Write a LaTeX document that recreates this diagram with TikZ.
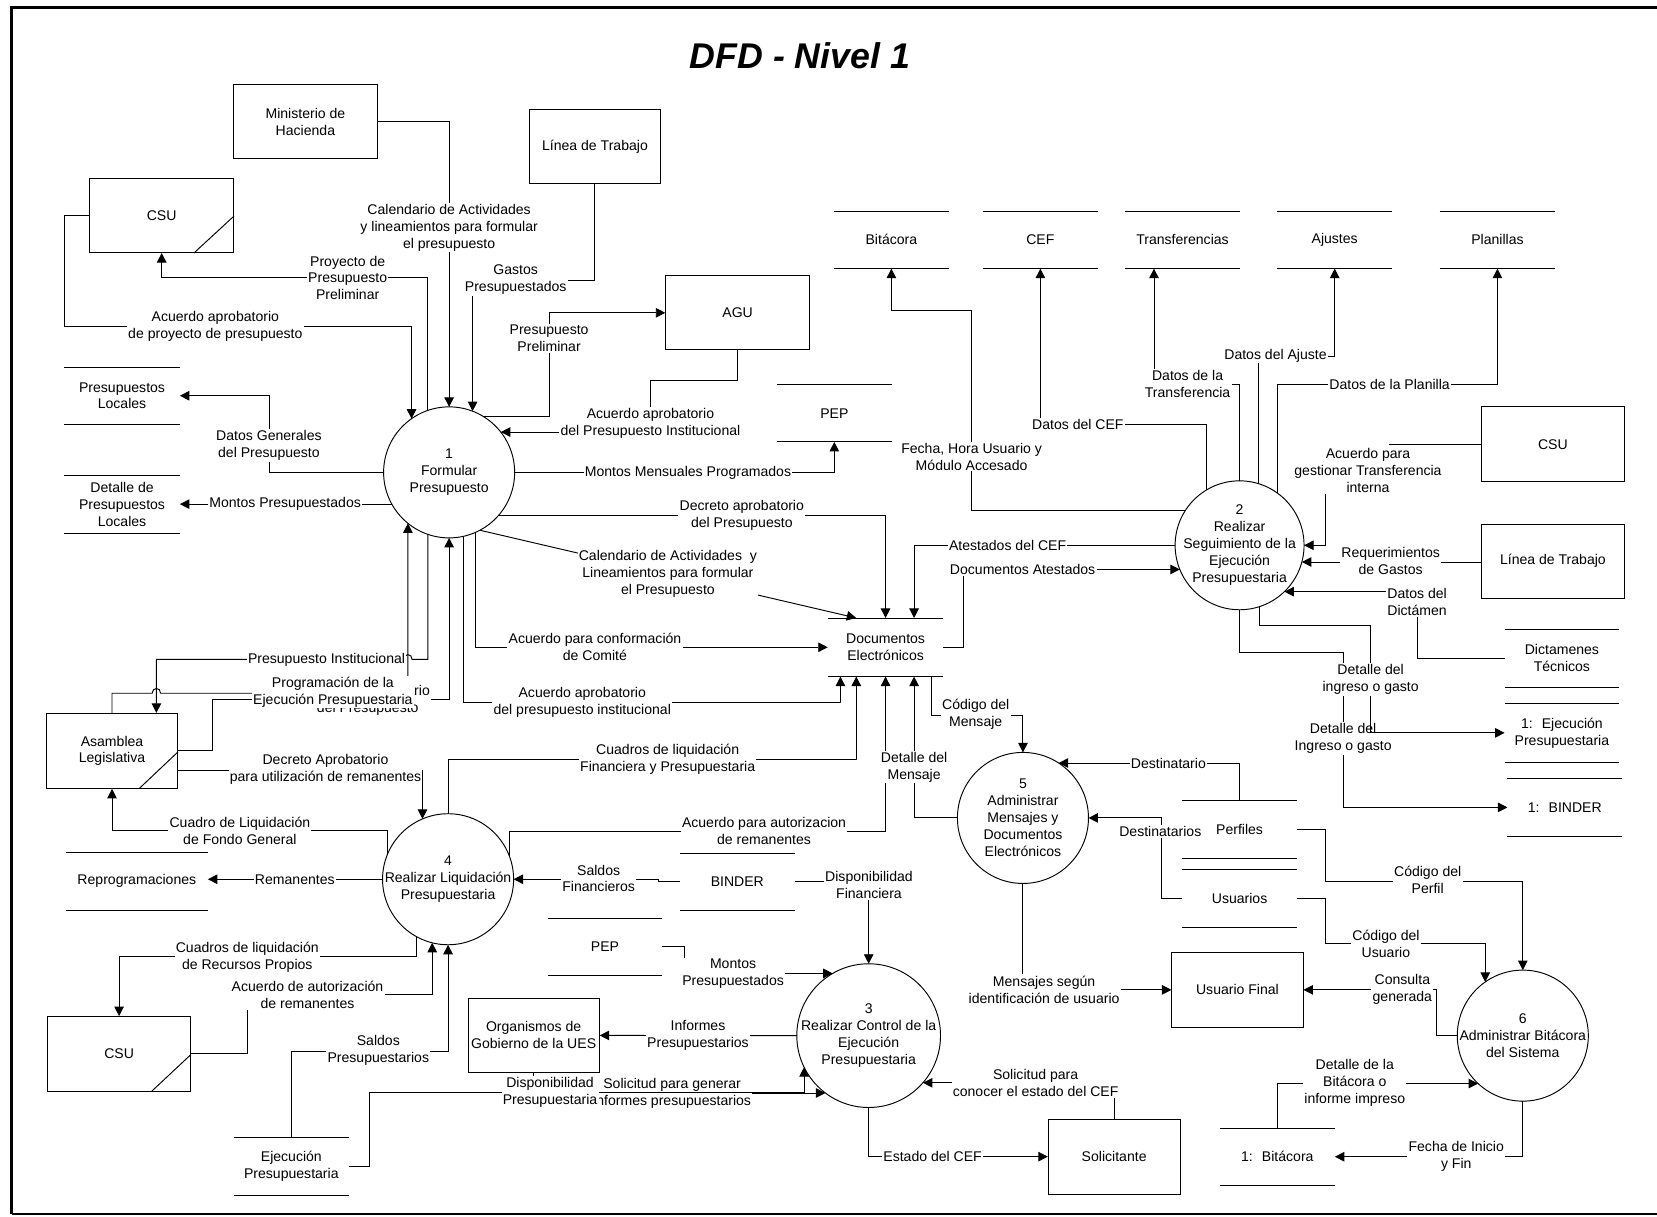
\documentclass[tikz,border=0pt]{standalone}
\usepackage{fontspec}
\setmainfont{Liberation Sans}
\usetikzlibrary{arrows.meta,calc}
\newcommand{\dfdstore}[1]{\draw[ln] (#1.north west) -- (#1.north east) (#1.south west) -- (#1.south east);}
\begin{document}
\begin{tikzpicture}[x=1pt,y=-1pt,
  every node/.style={font=\fontsize{13.3pt}{16pt}\selectfont},
  ln/.style={line width=0.9pt},
  arr/.style={line width=0.9pt,-{Triangle[length=9pt,width=9pt]}},
  ent/.style={draw,line width=0.9pt,rectangle,inner sep=0pt,align=center},
  proc/.style={draw,line width=0.9pt,circle,inner sep=0pt,outer sep=0pt},
  ptxt/.style={align=center,inner sep=0pt},
  store/.style={inner sep=0pt,align=center,minimum width=109pt,minimum height=54pt},
  lbl/.style={fill=white,inner sep=1.2pt,align=center}
]
\useasboundingbox (0,0) rectangle (1568,1151);
% frame
\draw[line width=3pt] (1568,7) -- (11,7) -- (11,1149);
\draw[line width=1.5pt] (11,1149) -- (1568,1149);
% title
\node[font=\fontsize{33.8pt}{40pt}\selectfont\bfseries\itshape] (title) at (757,53) {DFD - Nivel 1};

% external entities
\node[ent,minimum width=136pt,minimum height=70pt] (minH) at (289,115) {Ministerio de\\Hacienda};
\node[ent,minimum width=136pt,minimum height=70pt] (csuT) at (153,204) {CSU};
\node[ent,minimum width=124pt,minimum height=70pt] (lineaT) at (563,139) {Línea de Trabajo};
\node[ent,minimum width=136pt,minimum height=70pt] (agu) at (698,296) {AGU};
\node[ent,minimum width=135pt,minimum height=71pt] (csuR) at (1469.5,420.5) {CSU};
\node[ent,minimum width=135pt,minimum height=70pt] (lineaR) at (1469.5,531) {Línea de Trabajo};
\node[ent,minimum width=124pt,minimum height=71pt] (asam) at (106,710.5) {Asamblea\\Legislativa};
\node[ent,minimum width=135pt,minimum height=70.5pt] (csuB) at (112.7,997.2) {CSU};
\node[ent,minimum width=124pt,minimum height=70.5pt] (org) at (505,979.8) {Organismos de\\Gobierno de la UES};
\node[ent,minimum width=124pt,minimum height=70.5pt] (usuF) at (1171,936.7) {Usuario Final};
\node[ent,minimum width=124.6pt,minimum height=71pt] (solic) at (1054.3,1094.5) {Solicitante};
\draw[ln] ($(csuT.south east)+(-38,0)$) -- ($(csuT.south east)+(0,-35)$);
\draw[ln] ($(asam.south east)+(-37,0)$) -- ($(asam.south east)+(0,-35)$);
\draw[ln] ($(csuB.south east)+(-37.4,0)$) -- ($(csuB.south east)+(0,-35)$);

% processes
\node[proc,minimum size=124pt] (c1) at (425,447) {};
\node[ptxt] (c1t) at (425,447) {1\\Formular\\Presupuesto};
\node[proc,minimum size=122pt] (c2) at (1173,516) {};
\node[ptxt] (c2t) at (1173,516) {2\\Realizar\\Seguimiento de la\\Ejecución\\Presupuestaria};
\node[proc,minimum size=136pt] (c3) at (822,980) {};
\node[ptxt] (c3t) at (822,980) {3\\Realizar Control de la\\Ejecución\\Presupuestaria};
\node[proc,minimum size=124pt] (c4) at (424,832) {};
\node[ptxt] (c4t) at (424,832) {4\\Realizar Liquidación\\Presupuestaria};
\node[proc,minimum size=124pt] (c5) at (968,774) {};
\node[ptxt] (c5t) at (968,774) {5\\Administrar\\Mensajes y\\Documentos\\Electrónicos};
\node[proc,minimum size=124pt] (c6) at (1441,980) {};
\node[ptxt] (c6t) at (1441,980) {6\\Administrar Bitácora\\del Sistema};

% data stores
\node[store,minimum height=53pt] (presLoc) at (115.5,374.5) {Presupuestos\\Locales};
\node[store,minimum height=55pt] (detPres) at (115.5,477.5) {Detalle de\\Presupuestos\\Locales};
\node[store] (bitac) at (843.5,227) {Bitácora};
\node[store] (cef) at (984.5,227) {CEF};
\node[store,minimum width=108pt] (transf) at (1119,227) {Transferencias};
\node[store,minimum width=108.5pt] (ajust) at (1263,227) {Ajustes};
\node[store] (plan) at (1417,227) {Planillas};
\node[store] (pep1) at (789.5,391) {PEP};
\node[store,minimum height=55pt] (docs) at (838,612.5) {Documentos\\Electrónicos};
\node[store,minimum width=108pt] (dict) at (1478,623) {Dictamenes\\Técnicos};
\node[store,minimum width=108pt,minimum height=55pt] (ejec1) at (1478,693.5) {1:~ Ejecución\\Presupuestaria};
\node[store,minimum width=108pt] (binder1) at (1480.7,764) {1:~ BINDER};
\node[store,minimum width=108pt] (perf) at (1173,785) {Perfiles};
\node[store,minimum width=108pt] (usu) at (1173,850) {Usuarios};
\node[store,minimum width=108.5pt] (bit1) at (1208.7,1094.6) {1:~ Bitácora};
\node[store,minimum width=134pt] (reprog) at (129.5,834) {Reprogramaciones};
\node[store,minimum width=108.5pt] (binderM) at (697.7,834.5) {BINDER};
\node[store,minimum width=108pt] (pepM) at (572.5,896) {PEP};
\node[store,minimum width=108pt] (ejecB) at (275.7,1104) {Ejecución\\Presupuestaria};
\foreach \s in {presLoc,detPres,bitac,cef,transf,ajust,plan,pep1,docs,dict,ejec1,binder1,perf,usu,bit1,reprog,binderM,pepM,ejecB}{\dfdstore{\s}}

% flows of process 1
\draw[arr] (minH.east) -| (c1.north);
\draw[arr] (c1.109) |- (153,263) -| (csuT.south);
\draw[arr] (csuT.west) -| (61,309) -| (c1.125);
\draw[arr] (lineaT.south) |- (447,265) -| (c1.69);
\draw[arr] (c1.59) -| (520,296) |- (agu.west);
\draw[arr] (agu.south) |- (616,360) |- (c1.38);
\draw[arr] (c1.west) -| (255,374.5) -- (presLoc.east);
\draw[arr] (c1.209) -- (c1.209 -| detPres.east);
\draw[arr] (c1.east) -| (pep1.south);
\draw[arr] (c1.-41) -| (docs.north);
\draw[arr] (c1.-62) -- ([xshift=27pt]docs.north west);
\draw[arr] (c1.-66) |- (docs.west);
\draw[arr] (c1.-77) |- (795.5,665) -| ([xshift=12pt]docs.south west);
\draw[arr] (c1.-109) |- (390,624) .. controls (390,618) and (382,618) .. (382,624) -- (148,624) -- ([xshift=42pt]asam.north);
\draw[arr] (asam.north) |- (144,656) .. controls (144,650) and (152,650) .. (152,656) -| (c1.-129);
\draw[arr] (asam.east) -| (201,662) -| (c1.south);
\draw[arr] ($(asam.east)+(0,18.5)$) -| (c4.113);

% flows of process 4
\draw[arr] (c4.157) |- (106,786) -| (asam.south);
\draw[arr] (c4.west) -- (c4.west -| reprog.east);
\draw[arr] (c4.-119) |- (113,905.3) -| (csuB.north);
\draw[arr] (csuB.east) -| (234,941.5) -| (c4.-104);
\draw[arr] (ejecB.north) |- (424,995) -| (c4.south);
\draw[arr] (c4.north) |- (810.5,719) -| ([xshift=27pt]docs.south west);
\draw[arr] (c4.21) |- (838,786.4) -| (docs.south);
\draw[arr] (binderM.west) -- ++(-20,0) |- (c4.east);

% flows of process 3
\draw[arr] (binderM.east) -| (c3.north);
\draw[arr] (pepM.east) -| (647.3,921.1) |- (c3.120);
\draw[arr] (c3.west) -- (org.east);
\draw[arr] (solic.north) |- (c3.-41);
\draw[arr] (c3.south) |- (solic.west);

% flows of process 5
\draw[arr] ([xshift=43.5pt]docs.south) |- (968,676.6) -| (c5.north);
\draw[arr] (c5.west) -| ([xshift=27pt]docs.south);
\draw[arr] (perf.north) |- (c5.57);
\draw[arr] (usu.west) -| (1099,774) |- (c5.east);
\draw[arr] (c5.south) |- (usuF.west);

% flows of process 6
\draw[arr] (c6.west) -| (1359,936.7) |- (usuF.east);
\draw[arr] (perf.east) -| (1254,833.7) -| (c6.north);
\draw[arr] (usu.east) -| (1254,893) -| (c6.125);
\draw[arr] (bit1.north) |- (c6.227);
\draw[arr] (c6.south) |- (bit1.east);

% flows of process 2
\draw[arr] (c2.147) -| (919.5,293.4) -| (bitac.south);
\draw[arr] (c2.121) |- (984.5,401.5) -| (cef.south);
\draw[arr] (c2.north) |- (1092,363.6) -| ([xshift=-27pt]transf.south);
\draw[arr] (c2.73) |- (1263,337) -| (ajust.south);
\draw[arr] (c2.54) |- (1417,364) -| (plan.south);
\draw[arr] (c2.west) -| ([xshift=27pt]docs.north);
\draw[arr] (docs.east) -| (912,539) |- (c2.202);
\draw[arr] (csuR.west) -| (1254,516) |- (c2.east);
\draw[arr] (c2.-15 -| lineaR.west) -- (c2.-15);
\draw[arr] (dict.west) -| (1341,560) |- (c2.-46);

% labels
\node[lbl] (l1) at (425,215.5) {Calendario de Actividades\\y lineamientos para formular\\el presupuesto};
\node[lbl] (l2) at (329,263) {Proyecto de\\Presupuesto\\Preliminar};
\node[lbl] (l3) at (488,264.5) {Gastos\\Presupuestados};
\node[lbl] (l4) at (203.8,309) {Acuerdo aprobatorio\\de proyecto de presupuesto};
\node[lbl] (l5) at (519.6,320) {Presupuesto\\Preliminar};
\node[lbl] (l6) at (615.5,400.3) {Acuerdo aprobatorio\\del Presupuesto Institucional};
\node[lbl] (l7) at (254.5,421.7) {Datos Generales\\del Presupuesto};
\node[lbl] (l8) at (269.8,477.1) {Montos Presupuestados};
\node[lbl] (l9) at (651,447) {Montos Mensuales Programados};
\node[lbl] (l10) at (702,488) {Decreto aprobatorio\\del Presupuesto};
\node[lbl] (l11) at (632,543) {Calendario de Actividades~ y\\Lineamientos para formular\\el Presupuesto};
\node[lbl] (l12) at (563,612.3) {Acuerdo para conformación\\de Comité};
\node[lbl] (l13) at (551,665) {Acuerdo aprobatorio\\del presupuesto institucional};
\node[lbl] (l14) at (309,624) {Presupuesto Institucional};
\node[lbl] (l17) at (308,728) {Decreto Aprobatorio\\para utilización de remanentes};
\node[lbl] (l18) at (631.8,718.8) {Cuadros de liquidación\\Financiera y Presupuestaria};
\node[lbl] (l19) at (723,786) {Acuerdo para autorizacion\\de remanentes};
\node[lbl] (l20) at (227,786) {Cuadro de Liquidación\\de Fondo General};
\node[lbl] (l21) at (279,832) {Remanentes};
\node[lbl] (l22) at (566.5,831.3) {Saldos\\Financieros};
\node[lbl] (l23) at (822.3,837.5) {Disponibilidad\\Financiera};
\node[lbl] (l24) at (693.7,921.3) {Montos\\Presupuestados};
\node[lbl] (l25) at (234,905.5) {Cuadros de liquidación\\de Recursos Propios};
\node[lbl] (l26) at (291,941.4) {Acuerdo de autorización\\de remanentes};
\node[lbl] (l27) at (358,994) {Saldos\\Presupuestarios};
\node[lbl] (l28) at (660.5,980) {Informes\\Presupuestarios};
\node[lbl] (l31) at (980,1024.5) {Solicitud para\\conocer el estado del CEF};
\node[lbl] (l32) at (882.5,1094.5) {Estado del CEF};
\node[lbl] (l33) at (988,936.3) {Mensajes según\\identificación de usuario};
\node[lbl] (l34) at (923.3,676) {Código del\\Mensaje};
\node[lbl] (l35) at (865,726) {Detalle del\\Mensaje};
\node[lbl] (l36) at (1105.6,722.3) {Destinatario};
\node[lbl] (l37) at (1098,787) {Destinatarios};
\node[lbl] (l38) at (1351,833) {Código del\\Perfil};
\node[lbl] (l39) at (1311.5,893) {Código del\\Usuario};
\node[lbl] (l40) at (1327,936.3) {Consulta\\generada};
\node[lbl] (l41) at (1282,1025) {Detalle de la\\Bitácora o\\informe impreso};
\node[lbl] (l42) at (1378,1094.6) {Fecha de Inicio\\y Fin};
\node[lbl] (l43) at (919.4,432) {Fecha, Hora Usuario y\\Módulo Accesado};
\node[lbl] (l44) at (1020,401.5) {Datos del CEF};
\node[lbl] (l45) at (1123.8,363) {Datos de la\\Transferencia};
\node[lbl] (l46) at (1207,336.5) {Datos del Ajuste};
\node[lbl] (l47) at (1315,364) {Datos de la Planilla};
\fill[white] (1251.5,417.5) rectangle (1314,423.5);
\node[lbl] (l48) at (1294.5,445) {Acuerdo para\\gestionar Transferencia\\interna};
\node[lbl] (l49) at (1316,531) {Requerimientos\\de Gastos};
\node[lbl] (l50) at (1341,570) {Datos del\\Dictámen};
\node[lbl] (l53) at (953.5,516) {Atestados del CEF};
\node[lbl] (l54) at (967.7,539) {Documentos Atestados};

% overlapping labels and crossings
\node[lbl] (l15) at (348,662.7) {Decreto aprobatorio\\del Presupuesto};
\node[lbl] (l16) at (315,654.7) {Programación de la\\Ejecución Presupuestaria};
\draw[arr] (org.south) |- (c3.233);
\node[lbl] (l30) at (636,1035) {Solicitud para generar\\informes presupuestarios};
\draw[arr] (ejecB.east) -| (349.5,1034) -| (c3.206);
\node[lbl] (l29) at (520.5,1034) {Disponibilidad\\Presupuestaria};
\draw[arr] (c2.south) |- (1271,617) |- (binder1.west);
\node[lbl] (l52) at (1271,699) {Detalle del\\Ingreso o gasto};
\draw[arr] (c2.-72) |- (1297,591.4) |- (ejec1.west);
\node[lbl] (l51) at (1297,643) {Detalle del\\ingreso o gasto};
\end{tikzpicture}
\end{document}
